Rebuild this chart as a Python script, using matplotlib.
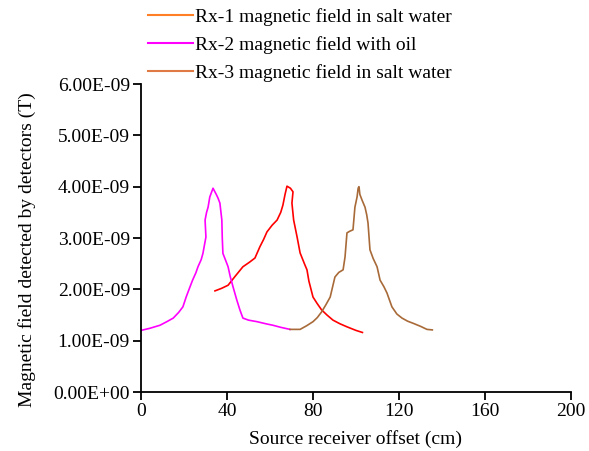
import matplotlib
matplotlib.use("Agg")
import matplotlib.pyplot as plt
from matplotlib.lines import Line2D
from matplotlib.ticker import FuncFormatter

plt.rcParams['font.family'] = ['Liberation Serif', 'DejaVu Serif']

# Rx-1 (salt water)
rx1_x = [34.4, 37.5, 40.5, 43.7, 47.4, 50.5, 53.0, 55.3, 57.0, 58.6, 61.0, 63.3, 65.0, 66.0, 67.0, 67.9, 69.5, 70.7,
         70.2, 71.0, 72.6, 74.0, 76.0, 77.2, 78.1, 80.0, 82.0, 84.0, 86.5, 89.3, 92.5, 95.8, 100.0, 103.0]
rx1_y = [1.97, 2.02, 2.08, 2.25, 2.44, 2.53, 2.61, 2.83, 2.97, 3.12, 3.25, 3.35, 3.50, 3.64, 3.85, 4.01, 3.97, 3.90,
         3.68, 3.35, 3.02, 2.71, 2.50, 2.38, 2.16, 1.85, 1.72, 1.60, 1.50, 1.40, 1.33, 1.27, 1.20, 1.16]

# Rx-2 (oil)
rx2_x = [0.0, 4.0, 8.8, 12.0, 15.0, 17.5, 19.5, 21.0, 22.8, 24.0, 25.5, 26.5, 28.0, 28.8, 30.2, 29.8, 30.5, 31.2, 32.0,
         33.5, 35.0, 35.8, 36.7, 37.6, 37.8, 38.1, 39.5, 40.5, 41.5, 42.8, 44.5, 46.0, 47.4, 50.0, 54.0, 58.0, 61.4, 65.0, 69.3]
rx2_y = [1.20, 1.24, 1.30, 1.37, 1.44, 1.55, 1.66, 1.85, 2.05, 2.18, 2.32, 2.44, 2.58, 2.70, 3.02, 3.35, 3.50, 3.60, 3.80,
         3.97, 3.85, 3.78, 3.68, 3.35, 3.00, 2.70, 2.55, 2.44, 2.25, 2.05, 1.80, 1.60, 1.44, 1.40, 1.37, 1.33, 1.30, 1.26, 1.22]

# Rx-3 (salt water)
rx3_x = [69.3, 74.0, 77.0, 80.0, 82.0, 84.0, 86.0, 88.0, 90.2, 92.0, 94.0, 94.9, 95.8, 97.0, 98.6, 99.5, 100.5, 101.0,
         101.4, 101.8, 102.8, 104.2, 105.0, 105.6, 106.5, 108.0, 109.8, 111.2, 113.0, 114.4, 116.7, 119.0, 121.4, 124.0,
         126.5, 130.0, 133.0, 135.5]
rx3_y = [1.22, 1.22, 1.29, 1.37, 1.45, 1.56, 1.70, 1.85, 2.24, 2.33, 2.38, 2.63, 3.10, 3.13, 3.16, 3.60, 3.80, 3.97,
         4.00, 3.85, 3.74, 3.60, 3.45, 3.29, 2.77, 2.60, 2.44, 2.18, 2.05, 1.93, 1.66, 1.52, 1.44, 1.38,
         1.34, 1.28, 1.22, 1.21]

labels = ["Rx-1 magnetic field in salt water",
          "Rx-2 magnetic field with oil",
          "Rx-3 magnetic field in salt water"]
line_colors = ["#FF0000", "#FF00FF", "#A86A38"]
legend_colors = ["#FF7F27", "#FF00FF", "#E07A45"]

x_ticks = [0, 40, 80, 120, 160, 200]
y_ticks = [0, 1e-9, 2e-9, 3e-9, 4e-9, 5e-9, 6e-9]

FS = 14

fig = plt.figure(figsize=(5.89, 4.51), dpi=100)
ax = fig.add_axes([0.2394, 0.1308, 0.7300, 0.6829])

for xs, ys, c in zip([rx1_x, rx2_x, rx3_x], [rx1_y, rx2_y, rx3_y], line_colors):
    ax.plot(xs, [v * 1e-9 for v in ys], color=c, lw=1.2)

ax.set_xlim(0, 200)
ax.set_ylim(0, 6e-9)
ax.set_xticks(x_ticks)
ax.set_yticks(y_ticks)
ax.yaxis.set_major_formatter(FuncFormatter(lambda v, p: "{:.2E}".format(v)))
ax.yaxis.get_offset_text().set_visible(False)
for s in ["top", "right"]:
    ax.spines[s].set_visible(False)
for s in ["left", "bottom"]:
    ax.spines[s].set_linewidth(1.3)
ax.tick_params(axis="both", direction="out", length=6, width=1.3, labelsize=FS, colors="black", pad=2)
ax.set_xlabel("Source receiver offset (cm)", fontsize=FS, labelpad=7)
ax.set_ylabel("Magnetic field detected by detectors (T)", fontsize=FS)
ax.yaxis.set_label_coords(-0.245, 0.461)

handles = [Line2D([0], [0], color=c, lw=1.5) for c in legend_colors]
fig.legend(handles, labels, loc="upper left", bbox_to_anchor=(0.232, 1.008), frameon=False,
           fontsize=FS, handlelength=2.3, handletextpad=0.1, labelspacing=0.52, borderaxespad=0.2)

fig.savefig("out.png", dpi=100)
